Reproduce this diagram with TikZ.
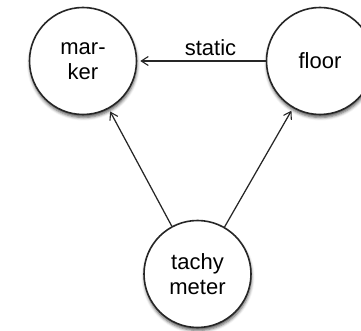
\documentclass[tikz,border=0pt]{standalone}
\usepackage{fontspec}
\setmainfont{Liberation Sans}
\usetikzlibrary{arrows.meta,shadows.blur}
\begin{document}
\begin{tikzpicture}[x=1pt,y=-1pt,
  state/.style={circle, draw=black!85, line width=1.6pt, fill=white,
    minimum size=107pt, inner sep=0pt, align=center,
    font=\fontsize{22}{24.5}\selectfont,
    blur shadow={shadow xshift=0.5pt, shadow yshift=-3pt, shadow blur radius=3pt, shadow opacity=65}},
  conn/.style={draw=black!85, line width=1.25pt, -{Straight Barb[length=7pt,width=9pt,line width=1.1pt]}, shorten >=3pt},
  lbl/.style={font=\fontsize{22}{24}\selectfont, inner sep=5pt}]
\useasboundingbox (0,0) rectangle (361,331);
\node[state] (marker) at (83,61) {mar-\\ker};
\node[state] (floor) at (320,61) {floor};
\node[state] (tachy) at (197.5,274) {tachy\\meter};
\draw[conn] (floor) -- node[pos=0.43, above, lbl] {static} (marker);
\draw[conn] (tachy) -- (marker);
\draw[conn] (tachy) -- (floor);
\end{tikzpicture}
\end{document}
